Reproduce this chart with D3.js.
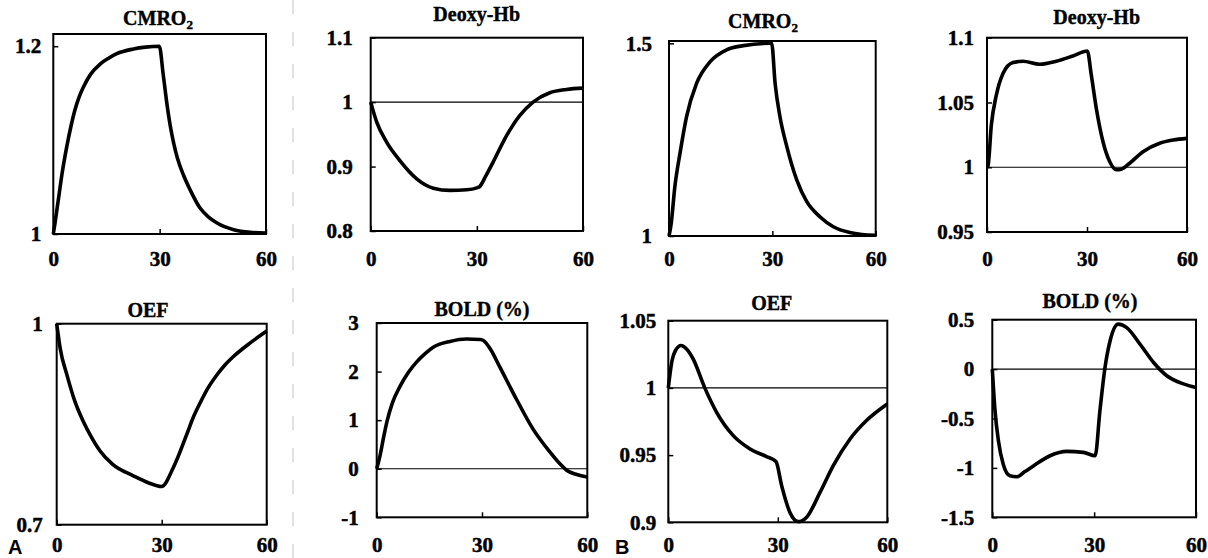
<!DOCTYPE html>
<html>
<head>
<meta charset="utf-8">
<script src="https://cdn.jsdelivr.net/npm/d3@7"></script>
<style>
  body { margin: 0; background: #fff; }
  svg { display: block; }
</style>
</head>
<body>
<script>
// time (s) vs normalised value
var cmroA = [[0,1],[0.5,1.012],[1.4,1.036],[2.5,1.065],[3.8,1.093],[5,1.115],[6.1,1.132],[7.3,1.146],[8.5,1.1565],
    [10.5,1.17],[13.2,1.181],[15.5,1.187],[17.9,1.192],[22.6,1.197],[26,1.199],[29.9,1.2],[31,1.17],[32,1.14],
    [33,1.115],[34,1.096],[35,1.081],[36.8,1.062],[38.6,1.047],[41.4,1.0276],[43.8,1.018],[46.2,1.0117],[50.9,1.0046],[55.6,1.0018],[60,1.001]];
var deoxyA = [[0,1],[1.7,0.969],[4.5,0.938],[8.3,0.909],[13,0.881],[17.7,0.8665],[22.4,0.863],[27.1,0.864],[30,0.867],
    [30.8,0.869],[32.5,0.885],[34.6,0.907],[38.4,0.948],[42.1,0.979],[45.9,1.0],[50.6,1.0145],[55.3,1.0197],[60,1.0217]];
var oefA = [[0,1],[1,0.963],[2.9,0.924],[5.2,0.884],[7.6,0.854],[10,0.83],[12.4,0.81],[16,0.79],[21.9,0.773],[26,0.763],
    [30,0.757],[33.3,0.785],[37.1,0.834],[39,0.86],[41,0.882],[43,0.902],[45.7,0.923],[48,0.938],[50.5,0.951],[55.2,0.971],[60,0.989]];
var boldA = [[0,0],[0.95,0.27],[2,0.66],[2.85,0.95],[4.5,1.36],[6.6,1.69],[9,1.98],[11.4,2.2],[13.8,2.37],[16.1,2.5],[20.9,2.62],[25.6,2.67],
    [29.5,2.66],[30.4,2.64],[32.5,2.45],[35.1,2.09],[39.9,1.42],[44.6,0.81],[49.4,0.34],[52.2,0.1],[54.1,-0.03],[57,-0.12],[60,-0.17]];
var cmroB = [[0,1],[0.6,1.03],[1.7,1.128],[3.2,1.215],[5.1,1.31],[8,1.396],[11.9,1.452],[16.7,1.483],[21.6,1.494],[29.3,1.5],
    [29.8,1.5],[30.8,1.396],[32.2,1.31],[34.2,1.232],[37.1,1.145],[40,1.089],[43.8,1.05],[47.7,1.024],[52.5,1.009],[56,1.004],[60,1.002]];
var deoxyB = [[0,1],[0.3,1.001],[1.3,1.0326],[2.8,1.0556],[4.8,1.0723],[7.8,1.0808],[10.8,1.0818],[15.8,1.0795],[20.8,1.0818],
    [25.8,1.0859],[30.1,1.0897],[31.3,1.071],[32.8,1.0454],[34.8,1.0197],[36.8,1.0044],[38.8,0.998],[40.3,0.9985],[42.8,1.0031],
    [46.8,1.012],[51.8,1.0185],[55.8,1.021],[60,1.0223]];
var oefB = [[0,1],[1,1.02],[2,1.028],[3.5,1.0315],[5,1.029],[6.8,1.0216],[10,1.0],[13.2,0.982],[17.8,0.9645],[22.4,0.9546],
    [26.9,0.9489],[29.5,0.9452],[31.05,0.9273],[33.3,0.9075],[35.6,0.9005],[37.9,0.9038],[41.6,0.9224],[45.2,0.9422],
    [49.8,0.962],[54.3,0.9757],[60,0.988]];
var boldB = [[0,0],[0.8,-0.42],[1.8,-0.725],[3.2,-0.96],[5.2,-1.08],[7.2,-1.09],[9.5,-1.04],[12.1,-0.98],[17,-0.877],
    [21.9,-0.833],[26.8,-0.843],[30.3,-0.877],[31.7,-0.42],[33.2,0.017],[34.7,0.287],[37.1,0.455],[39.6,0.42],[43.5,0.253],
    [47.5,0.067],[51.4,-0.067],[56.3,-0.15],[60,-0.186]];

var xTicks = [0, 30, 60];
var titles = ["CMRO", "Deoxy-Hb", "OEF", "BOLD (%)"];
var ticksCmroA = [1, 1.2], ticksDeoxyA = [0.8, 0.9, 1, 1.1], ticksOefA = [0.7, 1], ticksBoldA = [-1, 0, 1, 2, 3];
var ticksCmroB = [1, 1.5], ticksDeoxyB = [0.95, 1, 1.05, 1.1], ticksOefB = [0.9, 0.95, 1, 1.05], ticksBoldB = [-1.5, -1, -0.5, 0, 0.5];

// panel layout (pixel boxes) + which data goes where
var panels = [
    {data: cmroA,  title: 0, ticks: ticksCmroA,  dom: [1, 1.213],   ref: null, l: 53.3,  r: 266,   t: 34,    b: 234,   gap: 12, tx: 158,   ty: 25},
    {data: deoxyA, title: 1, ticks: ticksDeoxyA, dom: [0.8, 1.1],   ref: 1,    l: 370.7, r: 583,   t: 37.7,  b: 231,   gap: 18, tx: 476.7, ty: 21},
    {data: cmroB,  title: 0, ticks: ticksCmroB,  dom: [1, 1.506],   ref: null, l: 669,   r: 875.7, t: 41,    b: 236,   gap: 17, tx: 763,   ty: 28},
    {data: deoxyB, title: 1, ticks: ticksDeoxyB, dom: [0.95, 1.1],  ref: 1,    l: 987,   r: 1187,  t: 37.7,  b: 232,   gap: 13, tx: 1096.7,ty: 24},
    {data: oefA,   title: 2, ticks: ticksOefA,   dom: [0.7, 1],     ref: null, l: 56.7,  r: 266.7, t: 323.7, b: 524.7, gap: 14, tx: 148,   ty: 316.5},
    {data: boldA,  title: 3, ticks: ticksBoldA,  dom: [-1, 3],      ref: 0,    l: 376.7, r: 587.3, t: 323,   b: 517.3, gap: 18, tx: 482,   ty: 316},
    {data: oefB,   title: 2, ticks: ticksOefB,   dom: [0.9, 1.05],  ref: 1,    l: 668.3, r: 887.3, t: 320.7, b: 522.3, gap: 12, tx: 771.7, ty: 310},
    {data: boldB,  title: 3, ticks: ticksBoldB,  dom: [-1.5, 0.5],  ref: 0,    l: 992.3, r: 1196,  t: 319.7, b: 517.3, gap: 18, tx: 1090,  ty: 308}
];

var serif = "'Liberation Serif', 'DejaVu Serif', serif";

var svg = d3.select("body").append("svg")
    .attr("width", 1208)
    .attr("height", 558);

svg.append("rect").attr("width", 1208).attr("height", 558).attr("fill", "#fff");

// faint scan fold line between first two columns
svg.append("line")
    .attr("x1", 293).attr("x2", 293)
    .attr("y1", 0).attr("y2", 558)
    .attr("stroke", "#c4c4c4")
    .attr("stroke-width", 1)
    .attr("stroke-dasharray", "14 18");

panels.forEach(function(p, i) {
    var x = d3.scaleLinear().domain([0, 60]).range([p.l, p.r]);
    var y = d3.scaleLinear().domain(p.dom).range([p.b, p.t]);
    var g = svg.append("g").attr("class", "panel" + i);

    if (p.ref !== null) {
        g.append("line")
            .attr("x1", x(0)).attr("x2", x(60))
            .attr("y1", y(p.ref)).attr("y2", y(p.ref))
            .attr("stroke", "#000")
            .attr("stroke-width", 1.2);
    }

    var line = d3.line()
        .x(function(d) { return x(d[0]); })
        .y(function(d) { return y(d[1]); })
        .curve(d3.curveMonotoneX);

    g.append("path")
        .datum(p.data)
        .attr("d", line)
        .attr("fill", "none")
        .attr("stroke", "#000")
        .attr("stroke-width", 3.6)
        .attr("stroke-linejoin", "round");

    g.append("rect")
        .attr("x", p.l).attr("y", p.t)
        .attr("width", p.r - p.l).attr("height", p.b - p.t)
        .attr("fill", "none")
        .attr("stroke", "#000")
        .attr("stroke-width", 2);

    var yAxis = g.append("g")
        .attr("transform", "translate(" + p.l + ",0)")
        .call(d3.axisLeft(y)
            .tickValues(p.ticks)
            .tickFormat(function(d) { return String(d); })
            .tickSizeInner(-5)
            .tickSizeOuter(0)
            .tickPadding(p.gap));

    var xAxis = g.append("g")
        .attr("transform", "translate(0," + p.b + ")")
        .call(d3.axisBottom(x)
            .tickValues(xTicks)
            .tickSizeInner(-5)
            .tickSizeOuter(0));

    // x labels sit on one baseline per row
    var base = i < 4 ? 266 : 552;
    xAxis.selectAll("text").attr("y", base - p.b).attr("dy", 0);

    [yAxis, xAxis].forEach(function(a) {
        a.select(".domain").remove();
        a.selectAll("line").attr("stroke", "#000").attr("stroke-width", 1.5);
        a.selectAll("text")
            .attr("fill", "#000")
            .attr("stroke", "#000")
            .attr("stroke-width", 0.5)
            .style("font-family", serif)
            .style("font-weight", "bold")
            .style("font-size", "21px");
    });

    var title = g.append("text")
        .attr("x", p.tx).attr("y", p.ty)
        .attr("text-anchor", "middle")
        .attr("stroke", "#000")
        .attr("stroke-width", 0.4)
        .style("font-family", serif)
        .style("font-weight", "bold")
        .style("font-size", "20px")
        .text(titles[p.title]);
    if (p.title === 0) {
        title.append("tspan")
            .attr("dy", 4)
            .style("font-size", "13px")
            .text("2");
    }
});

// panel group letters
svg.selectAll(".grp")
    .data([{t: "A", x: 8}, {t: "B", x: 615}])
    .enter()
    .append("text")
    .attr("x", function(d) { return d.x; })
    .attr("y", 554)
    .style("font-family", "'Liberation Sans', Arial, sans-serif")
    .style("font-weight", "bold")
    .style("font-size", "20px")
    .text(function(d) { return d.t; });
</script>
</body>
</html>
